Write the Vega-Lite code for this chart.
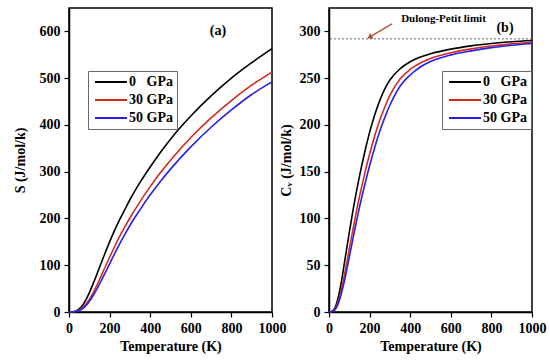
{
  "$schema": "https://vega.github.io/schema/vega-lite/v6.json",
  "background": "white",
  "padding": {"left": 12, "top": 7, "right": 5, "bottom": 5},
  "config": {
    "font": "Liberation Serif",
    "view": {"stroke": "black", "strokeWidth": 1.5},
    "axis": {
      "labelFont": "Liberation Serif", "labelFontSize": 14, "labelFontWeight": "bold", "labelColor": "black",
      "titleFont": "Liberation Serif", "titleFontSize": 14, "titleFontWeight": "bold", "titleColor": "black",
      "domainColor": "black", "domainWidth": 1.5, "tickColor": "black", "tickWidth": 1.2, "grid": false,
      "labelPadding": 4, "labelFlush": false, "format": "d"
    },
    "legend": {
      "title": null, "orient": "none", "symbolType": "M-4,0H4", "symbolSize": 64, "symbolStrokeWidth": 2,
      "strokeColor": "#666666", "fillColor": "white", "padding": 4,
      "labelFont": "Liberation Serif", "labelFontSize": 14, "labelFontWeight": "bold", "labelColor": "black",
      "rowPadding": 4, "symbolOffset": 12, "labelOffset": 11
    }
  },
  "datasets": {
    "curves": [
      {"T": 0, "P": "0\u00a0\u00a0\u00a0GPa", "S": 0, "Cv": 0},
      {"T": 20, "P": "0\u00a0\u00a0\u00a0GPa", "S": 0.5, "Cv": 1.5},
      {"T": 40, "P": "0\u00a0\u00a0\u00a0GPa", "S": 3.2, "Cv": 11},
      {"T": 60, "P": "0\u00a0\u00a0\u00a0GPa", "S": 10.5, "Cv": 31},
      {"T": 80, "P": "0\u00a0\u00a0\u00a0GPa", "S": 23.5, "Cv": 58},
      {"T": 100, "P": "0\u00a0\u00a0\u00a0GPa", "S": 41, "Cv": 85},
      {"T": 125, "P": "0\u00a0\u00a0\u00a0GPa", "S": 67, "Cv": 117},
      {"T": 150, "P": "0\u00a0\u00a0\u00a0GPa", "S": 95, "Cv": 145},
      {"T": 175, "P": "0\u00a0\u00a0\u00a0GPa", "S": 123, "Cv": 170},
      {"T": 200, "P": "0\u00a0\u00a0\u00a0GPa", "S": 150, "Cv": 192},
      {"T": 225, "P": "0\u00a0\u00a0\u00a0GPa", "S": 175, "Cv": 210.5},
      {"T": 250, "P": "0\u00a0\u00a0\u00a0GPa", "S": 198, "Cv": 226},
      {"T": 275, "P": "0\u00a0\u00a0\u00a0GPa", "S": 219, "Cv": 238.5},
      {"T": 300, "P": "0\u00a0\u00a0\u00a0GPa", "S": 240, "Cv": 248},
      {"T": 350, "P": "0\u00a0\u00a0\u00a0GPa", "S": 277, "Cv": 260},
      {"T": 400, "P": "0\u00a0\u00a0\u00a0GPa", "S": 310, "Cv": 267.5},
      {"T": 450, "P": "0\u00a0\u00a0\u00a0GPa", "S": 341, "Cv": 272.5},
      {"T": 500, "P": "0\u00a0\u00a0\u00a0GPa", "S": 369.5, "Cv": 276},
      {"T": 600, "P": "0\u00a0\u00a0\u00a0GPa", "S": 419, "Cv": 281},
      {"T": 700, "P": "0\u00a0\u00a0\u00a0GPa", "S": 462, "Cv": 284.5},
      {"T": 800, "P": "0\u00a0\u00a0\u00a0GPa", "S": 500, "Cv": 287},
      {"T": 900, "P": "0\u00a0\u00a0\u00a0GPa", "S": 533, "Cv": 289},
      {"T": 1000, "P": "0\u00a0\u00a0\u00a0GPa", "S": 563, "Cv": 290.3},
      {"T": 0, "P": "30 GPa", "S": 0, "Cv": 0},
      {"T": 20, "P": "30 GPa", "S": 0.3, "Cv": 1.1},
      {"T": 40, "P": "30 GPa", "S": 2, "Cv": 8},
      {"T": 60, "P": "30 GPa", "S": 6.5, "Cv": 22.5},
      {"T": 80, "P": "30 GPa", "S": 15, "Cv": 44},
      {"T": 100, "P": "30 GPa", "S": 27, "Cv": 67.5},
      {"T": 125, "P": "30 GPa", "S": 46.5, "Cv": 96.1},
      {"T": 150, "P": "30 GPa", "S": 69, "Cv": 123},
      {"T": 175, "P": "30 GPa", "S": 93, "Cv": 147.2},
      {"T": 200, "P": "30 GPa", "S": 117, "Cv": 168.9},
      {"T": 225, "P": "30 GPa", "S": 140, "Cv": 188.2},
      {"T": 250, "P": "30 GPa", "S": 162, "Cv": 204.9},
      {"T": 275, "P": "30 GPa", "S": 182, "Cv": 219.2},
      {"T": 300, "P": "30 GPa", "S": 201, "Cv": 231.5},
      {"T": 350, "P": "30 GPa", "S": 236, "Cv": 249},
      {"T": 400, "P": "30 GPa", "S": 268, "Cv": 259.5},
      {"T": 450, "P": "30 GPa", "S": 297.5, "Cv": 266.2},
      {"T": 500, "P": "30 GPa", "S": 324.5, "Cv": 271},
      {"T": 600, "P": "30 GPa", "S": 373, "Cv": 277.1},
      {"T": 700, "P": "30 GPa", "S": 415, "Cv": 281.3},
      {"T": 800, "P": "30 GPa", "S": 452, "Cv": 284.3},
      {"T": 900, "P": "30 GPa", "S": 485, "Cv": 286.6},
      {"T": 1000, "P": "30 GPa", "S": 513, "Cv": 288.4},
      {"T": 0, "P": "50 GPa", "S": 0, "Cv": 0},
      {"T": 20, "P": "50 GPa", "S": 0.2, "Cv": 0.8},
      {"T": 40, "P": "50 GPa", "S": 1.6, "Cv": 6},
      {"T": 60, "P": "50 GPa", "S": 5, "Cv": 19},
      {"T": 80, "P": "50 GPa", "S": 12, "Cv": 37},
      {"T": 100, "P": "50 GPa", "S": 22.5, "Cv": 58.8},
      {"T": 125, "P": "50 GPa", "S": 39.5, "Cv": 86},
      {"T": 150, "P": "50 GPa", "S": 59.5, "Cv": 111.9},
      {"T": 175, "P": "50 GPa", "S": 81, "Cv": 135},
      {"T": 200, "P": "50 GPa", "S": 103, "Cv": 156.3},
      {"T": 225, "P": "50 GPa", "S": 125, "Cv": 175.7},
      {"T": 250, "P": "50 GPa", "S": 146, "Cv": 193.2},
      {"T": 275, "P": "50 GPa", "S": 166, "Cv": 208.1},
      {"T": 300, "P": "50 GPa", "S": 185, "Cv": 221},
      {"T": 350, "P": "50 GPa", "S": 219, "Cv": 241.3},
      {"T": 400, "P": "50 GPa", "S": 250.5, "Cv": 253.4},
      {"T": 450, "P": "50 GPa", "S": 279, "Cv": 261.9},
      {"T": 500, "P": "50 GPa", "S": 305.5, "Cv": 267.8},
      {"T": 600, "P": "50 GPa", "S": 353, "Cv": 274.9},
      {"T": 700, "P": "50 GPa", "S": 395, "Cv": 279.2},
      {"T": 800, "P": "50 GPa", "S": 432, "Cv": 282.6},
      {"T": 900, "P": "50 GPa", "S": 465, "Cv": 285.1},
      {"T": 1000, "P": "50 GPa", "S": 492, "Cv": 287.1}
    ]
  },
  "hconcat": [
    {
      "width": 203,
      "height": 304,
      "layer": [
        {
          "data": {"name": "curves"},
          "mark": {"type": "line", "strokeWidth": 1.6, "interpolate": "monotone"},
          "encoding": {
            "x": {
              "field": "T", "type": "quantitative",
              "scale": {"domain": [0, 1000], "nice": false},
              "axis": {
                "title": "Temperature (K)", "labelFont": "Liberation Serif", "format": "d",
                "values": [0, 100, 200, 300, 400, 500, 600, 700, 800, 900, 1000],
                "labelExpr": "datum.value % 200 === 0 ? datum.label : ''",
                "tickSize": {"condition": {"test": "datum.value % 200 === 0", "value": 5}, "value": 3}
              }
            },
            "y": {
              "field": "S", "type": "quantitative",
              "scale": {"domain": [0, 650], "nice": false},
              "axis": {
                "title": "S (J/mol/k)", "labelFont": "Liberation Serif", "format": "d", "titlePadding": 12,
                "values": [0, 50, 100, 150, 200, 250, 300, 350, 400, 450, 500, 550, 600, 650],
                "labelExpr": "datum.value % 100 === 0 ? datum.label : ''",
                "tickSize": {"condition": {"test": "datum.value % 100 === 0", "value": 5}, "value": 3}
              }
            },
            "color": {
              "field": "P", "type": "nominal",
              "scale": {"domain": ["0\u00a0\u00a0\u00a0GPa", "30 GPa", "50 GPa"], "range": ["#000000", "#d42a1e", "#2a1fe6"]},
              "legend": {"legendX": 19, "legendY": 63}
            }
          }
        },
        {
          "data": {"values": [{}]},
          "mark": {"type": "text", "text": "(a)", "font": "Liberation Serif", "fontSize": 14, "fontWeight": "bold", "color": "black"},
          "encoding": {"x": {"datum": 734}, "y": {"datum": 600}}
        }
      ]
    },
    {
      "width": 203,
      "height": 304,
      "layer": [
        {
          "data": {"values": [{}]},
          "mark": {"type": "rule", "strokeDash": [2, 2], "color": "#666666", "strokeWidth": 1},
          "encoding": {"y": {"datum": 292}}
        },
        {
          "data": {"name": "curves"},
          "mark": {"type": "line", "strokeWidth": 1.6, "interpolate": "monotone"},
          "encoding": {
            "x": {
              "field": "T", "type": "quantitative",
              "scale": {"domain": [0, 1000], "nice": false},
              "axis": {
                "title": "Temperature (K)", "labelFont": "Liberation Serif", "format": "d",
                "values": [0, 100, 200, 300, 400, 500, 600, 700, 800, 900, 1000],
                "labelExpr": "datum.value % 200 === 0 ? datum.label : ''",
                "tickSize": {"condition": {"test": "datum.value % 200 === 0", "value": 5}, "value": 3}
              }
            },
            "y": {
              "field": "Cv", "type": "quantitative",
              "scale": {"domain": [0, 325], "nice": false},
              "axis": {
                "title": "Cᵥ (J/mol/k)", "labelFont": "Liberation Serif", "format": "d", "titlePadding": 6,
                "values": [0, 25, 50, 75, 100, 125, 150, 175, 200, 225, 250, 275, 300, 325],
                "labelExpr": "datum.value % 50 === 0 ? datum.label : ''",
                "tickSize": {"condition": {"test": "datum.value % 50 === 0", "value": 5}, "value": 3}
              }
            },
            "color": {
              "field": "P", "type": "nominal",
              "scale": {"domain": ["0\u00a0\u00a0\u00a0GPa", "30 GPa", "50 GPa"], "range": ["#000000", "#d42a1e", "#2a1fe6"]},
              "legend": {"legendX": 113, "legendY": 63}
            }
          }
        },
        {
          "data": {"values": [{}]},
          "mark": {"type": "text", "text": "(b)", "font": "Liberation Serif", "fontSize": 14, "fontWeight": "bold", "color": "black"},
          "encoding": {"x": {"datum": 867}, "y": {"datum": 304}}
        },
        {
          "data": {"values": [{}]},
          "mark": {"type": "text", "text": "Dulong-Petit limit", "font": "Liberation Serif", "fontSize": 11, "fontWeight": "bold", "color": "black"},
          "encoding": {"x": {"datum": 564}, "y": {"datum": 313}}
        },
        {
          "data": {"values": [{}]},
          "mark": {"type": "rule", "color": "#b0532c", "strokeWidth": 1.3},
          "encoding": {"x": {"datum": 310}, "x2": {"datum": 212}, "y": {"datum": 308}, "y2": {"datum": 295.5}}
        },
        {
          "data": {"values": [{}]},
          "mark": {"type": "point", "shape": "triangle", "angle": 239, "filled": true, "size": 40, "color": "#b0532c", "opacity": 1},
          "encoding": {"x": {"datum": 204}, "y": {"datum": 294.3}}
        }
      ]
    }
  ],
  "spacing": 57,
  "bounds": "flush",
  "resolve": {"scale": {"color": "independent"}, "legend": {"color": "independent"}}
}
